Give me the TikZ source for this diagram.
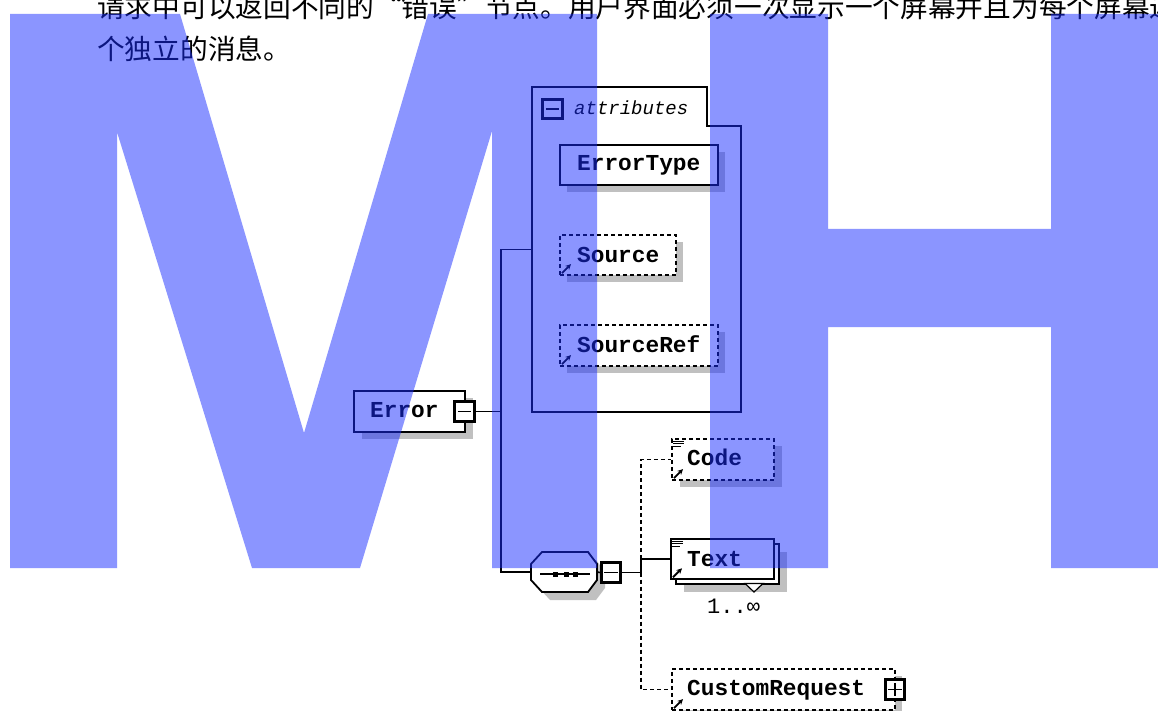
\documentclass[tikz,border=0pt]{standalone}
\usepackage{fontspec}
\newfontfamily\cjk{Noto Sans CJK SC}
\newfontfamily\elfont{Liberation Mono}
\usetikzlibrary{arrows.meta}
\definecolor{shadowgray}{RGB}{192,192,192}
\definecolor{wmblue}{RGB}{25,45,255}
\tikzset{
  elbox/.style={draw=black, line width=1.8pt, fill=white, inner sep=0pt, anchor=north west},
  optbox/.style={elbox, line width=1.6pt, dash pattern=on 4pt off 3pt},
  shadowbox/.style={fill=shadowgray, draw=none, inner sep=0pt, anchor=north west},
  ellabel/.style={font=\elfont\bfseries\fontsize{22.8}{26}\selectfont, inner sep=0pt, anchor=base west},
  pmbox/.style={draw=black, line width=2.8pt, fill=white, minimum size=19.5pt, inner sep=0pt},
  pmline/.style={line width=1.5pt},
  conn/.style={line width=1.6pt},
  dconn/.style={conn, dash pattern=on 4pt off 3pt},
  refarrow/.style={line width=1.9pt, -{Stealth[length=5.5pt,width=5.5pt]}},
  docline/.style={line width=1pt},
  wm/.style={fill=wmblue, fill opacity=0.5, draw=none},
  cjktext/.style={font=\cjk\fontsize{27.7}{42}\selectfont, inner sep=0pt, anchor=base west}
}
\begin{document}
\begin{tikzpicture}[x=1pt,y=-1pt]
\clip (0,0) rectangle (1158,711);
\fill[white] (0,0) rectangle (1158,711);

% paragraph text
\node[cjktext] (para1) at (97,18) {请求中可以返回不同的“错误”节点。用户界面必须一次显示一个屏幕并且为每个屏幕返};
\node[cjktext] (para2) at (97,60) {个独立的消息。};

% attributes group frame
\draw[line width=1.8pt, fill=white] (532,87) -- (707,87) -- (707,126) -- (741,126) -- (741,412) -- (532,412) -- cycle;
\node[minimum width=209pt, minimum height=325pt, inner sep=0pt, outer sep=0pt, anchor=north west] (attrs) at (532,87) {};
\node[pmbox] (attrpm) at (552.5,109) {};
\draw[pmline] ([xshift=4.5pt]attrpm.west) -- ([xshift=-4.5pt]attrpm.east);
\node[font=\elfont\itshape\fontsize{19}{22}\selectfont, inner sep=0pt, anchor=base west] (attrlbl) at (574,115) {attributes};

% ErrorType
\node[shadowbox, minimum width=158pt, minimum height=40pt] (errortypesh) at (567,152) {};
\node[elbox, line width=2.4pt, minimum width=158pt, minimum height=40pt] (errortype) at (559,144) {};
\node[ellabel] (errortypelbl) at (577,171) {ErrorType};

% Source
\node[shadowbox, minimum width=116pt, minimum height=40pt] (sourcesh) at (567,242) {};
\node[optbox, minimum width=116pt, minimum height=40pt] (source) at (559,234) {};
\node[ellabel] (sourcelbl) at (577,262) {Source};
\draw[refarrow] ([xshift=3pt,yshift=2.5pt]source.south west) -- ++(9,-9);

% SourceRef
\node[shadowbox, minimum width=158pt, minimum height=41pt] (sourcerefsh) at (567,332) {};
\node[optbox, minimum width=158pt, minimum height=41pt] (sourceref) at (559,324) {};
\node[ellabel] (sourcereflbl) at (577,352) {SourceRef};
\draw[refarrow] ([xshift=3pt,yshift=2.5pt]sourceref.south west) -- ++(9,-9);

% Error
\node[shadowbox, minimum width=111pt, minimum height=41pt] (errorsh) at (362,398) {};
\node[elbox, minimum width=111pt, minimum height=41pt] (error) at (353,390) {};
\node[ellabel] (errorlbl) at (370,417) {Error};
\node[pmbox] (errpm) at (464.5,411.5) {};
\draw[pmline] ([xshift=4.5pt]errpm.west) -- ([xshift=-4.5pt]errpm.east);

% sequence compositor
\fill[shadowgray] (550,560) -- (596,560) -- (605,572) -- (605,588) -- (596,600) -- (550,600) -- (539,588) -- (539,572) -- cycle;
\draw[line width=1.8pt, fill=white] (542,552) -- (588,552) -- (597,564) -- (597,580) -- (588,592) -- (542,592) -- (531,580) -- (531,564) -- cycle;
\node[minimum width=66pt, minimum height=40pt, inner sep=0pt, outer sep=0pt] (seq) at (564,572) {};
\draw[line width=1.4pt] (540,574) -- (590,574);
\fill (553,571.5) rectangle (558,576.5);
\fill (563.5,571.5) rectangle (568.5,576.5);
\fill (573,571.5) rectangle (578,576.5);
\node[pmbox] (seqpm) at (611,572.5) {};
\draw[pmline] ([xshift=4.5pt]seqpm.west) -- ([xshift=-4.5pt]seqpm.east);

% Code
\node[shadowbox, minimum width=102pt, minimum height=41pt] (codesh) at (680,446) {};
\node[optbox, minimum width=102pt, minimum height=41pt] (code) at (671,438) {};
\node[ellabel] (codelbl) at (687,465) {Code};
\draw[docline] ([xshift=2pt,yshift=-3pt]code.north west) -- ++(11,0);
\draw[docline] ([xshift=2pt,yshift=-5.5pt]code.north west) -- ++(11,0);
\draw[docline] ([xshift=2pt,yshift=-8pt]code.north west) -- ++(8,0);
\draw[refarrow] ([xshift=3pt,yshift=2.5pt]code.south west) -- ++(9,-9);

% Text (repeated)
\node[shadowbox, minimum width=103pt, minimum height=40pt] (textsh) at (684,552) {};
\node[elbox, minimum width=103pt, minimum height=40pt] (textback) at (675,543) {};
\node[elbox, minimum width=103pt, minimum height=40pt] (textel) at (670,538) {};
\draw[line width=1.2pt, fill=white] (745,583.5) -- (763,583.5) -- (754,592) -- cycle;
\node[ellabel] (textlbl) at (687,566) {Text};
\draw[docline] ([xshift=2pt,yshift=-3pt]textel.north west) -- ++(11,0);
\draw[docline] ([xshift=2pt,yshift=-5.5pt]textel.north west) -- ++(11,0);
\draw[docline] ([xshift=2pt,yshift=-8pt]textel.north west) -- ++(8,0);
\draw[refarrow] ([xshift=3pt,yshift=2.5pt]textel.south west) -- ++(9,-9);
\node[font=\elfont\fontsize{22}{24}\selectfont, inner sep=0pt, anchor=base west] (textocc) at (707,613) {1..∞};

% CustomRequest
\node[shadowbox, minimum width=223pt, minimum height=41pt] (customsh) at (679,676) {};
\node[optbox, minimum width=223pt, minimum height=41pt] (custom) at (671,668) {};
\node[ellabel] (customlbl) at (687,695) {CustomRequest};
\draw[refarrow] ([xshift=3pt,yshift=2.5pt]custom.south west) -- ++(9,-9);
\node[pmbox] (custompm) at (895,689.5) {};
\draw[pmline] ([xshift=4.5pt]custompm.west) -- ([xshift=-4.5pt]custompm.east);
\draw[pmline] ([yshift=-4.5pt]custompm.north) -- ([yshift=4.5pt]custompm.south);

% connectors
\coordinate (trunk) at (501,411.5);
\coordinate (j2) at (641,572.5);
\draw[conn] (errpm.east) -- (trunk);
\draw[conn] (attrs.west) -| (trunk);
\draw[conn] (trunk) |- (seq.west);
\draw[conn] (seq.east) -- (seqpm.west);
\draw[conn] (seqpm.east) -- (j2);
\draw[dconn] (j2) |- (code.west);
\draw[dconn] (j2) |- (custom.west);
\draw[conn] (j2) |- (textel.west);

% watermark
\fill[wm] (10,14) -- (180,14) -- (304,433) -- (428,14) -- (597,14) -- (597,568) -- (492,568) -- (492,131) -- (360,568) -- (252,568) -- (117,132) -- (117,568) -- (10,568) -- cycle;
\fill[wm] (710,14) -- (828,14) -- (828,229) -- (1051,229) -- (1051,14) -- (1158,14) -- (1158,568) -- (1051,568) -- (1051,327) -- (828,327) -- (828,568) -- (710,568) -- cycle;
\end{tikzpicture}
\end{document}
